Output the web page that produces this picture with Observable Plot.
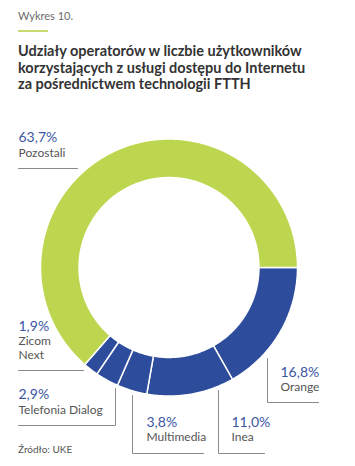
<!DOCTYPE html>
<html>
<head>
<meta charset="utf-8">
<script src="https://cdn.jsdelivr.net/npm/d3@7"></script>
<script src="https://cdn.jsdelivr.net/npm/@observablehq/plot@0.6"></script>
<style>
  html, body { margin: 0; padding: 0; background: #fff; }
  body { width: 355px; height: 466px; position: relative; overflow: hidden; font-family: Lato, "Noto Sans", sans-serif; }
  #kicker { position: absolute; left: 18px; top: 9px; font-size: 11px; line-height: 13px; color: #6b6b6b; }
  #rule { position: absolute; left: 18px; top: 30px; width: 30px; height: 1.5px; background: #c6dc6e; }
  #title { position: absolute; left: 18px; top: 43px; font-size: 14.5px; line-height: 16.5px; font-weight: 700; color: #333; }
  #chart { position: absolute; left: 0; top: 100px; }
  #source { position: absolute; left: 18px; top: 443px; font-size: 10px; line-height: 12px; color: #555; }
</style>
</head>
<body>
<div id="kicker">Wykres 10.</div>
<div id="rule"></div>
<div id="title">Udziały operatorów w liczbie użytkowników<br>korzystających z usługi dostępu do Internetu<br>za pośrednictwem technologii FTTH</div>
<div id="chart"></div>
<div id="source">Źródło: UKE</div>
<script>
// ---- data ----
const categories = ["Orange", "Inea", "Multimedia", "Telefonia Dialog", "Zicom Next", "Pozostali"];
const shares = [16.8, 11.0, 3.8, 2.9, 1.9, 63.7];
const valueLabels = ["16,8%", "11,0%", "3,8%", "2,9%", "1,9%", "63,7%"];
const nameLines = [["Orange"], ["Inea"], ["Multimedia"], ["Telefonia Dialog"], ["Zicom", "Next"], ["Pozostali"]];
const colors = ["#2d4c9c", "#2d4c9c", "#2d4c9c", "#2d4c9c", "#2d4c9c", "#bdd64f"];

// ---- layout (svg pixels) ----
const W = 355, H = 360;
const CX = 168.5, CY = 167, R = 128.5, INNER = 0.70;
const labelLayout = [
  {x: 280, value: 276, names: [290], leader: [[267, 258], [267, 302], [318, 302]]},
  {x: 231, value: 326, names: [340], leader: [[218, 290], [218, 353], [264, 353]]},
  {x: 146, value: 326, names: [340], leader: [[132, 295], [132, 353], [203, 353]]},
  {x: 18, value: 298, names: [313], leader: [[115, 288], [115, 325], [18, 325]]},
  {x: 18, value: 230, names: [244, 258], leader: [[18, 270], [83, 270]]},
  {x: 18, value: 41, names: [56], leader: [[18, 68], [77, 68]]}
];
const ux = px => (px - CX) / R;
const uy = py => (py - CY) / R;

// ---- slices (d3.pie, starting at 3 o'clock, clockwise) ----
const pie = d3.pie().sort(null).startAngle(Math.PI / 2).endAngle(Math.PI / 2 + 2 * Math.PI);
const arcs = pie(shares);
const slicePts = [];
arcs.forEach((a, i) => {
  const n = Math.max(4, Math.ceil((a.endAngle - a.startAngle) / (Math.PI / 360)));
  const ring = [];
  for (let k = 0; k <= n; k++) {
    const t = a.startAngle + (a.endAngle - a.startAngle) * k / n;
    ring.push([Math.sin(t), -Math.cos(t)]);
  }
  for (let k = n; k >= 0; k--) {
    const t = a.startAngle + (a.endAngle - a.startAngle) * k / n;
    ring.push([INNER * Math.sin(t), -INNER * Math.cos(t)]);
  }
  ring.push(ring[0]);
  ring.forEach(([x, y], j) => slicePts.push({cat: categories[i], x, y, j}));
});

const valueText = categories.map((c, i) => ({cat: c, text: valueLabels[i], x: ux(labelLayout[i].x), y: uy(labelLayout[i].value)}));
const nameText = [];
categories.forEach((c, i) => nameLines[i].forEach((t, k) => nameText.push({cat: c, text: t, x: ux(labelLayout[i].x), y: uy(labelLayout[i].names[k])})));
const leaders = [];
categories.forEach((c, i) => labelLayout[i].leader.forEach(([px, py], j) => leaders.push({cat: c, x: ux(px), y: uy(py), j})));

const chart = Plot.plot({
  width: W,
  height: H,
  margin: 0,
  style: {fontFamily: "Lato, 'Noto Sans', sans-serif", background: "transparent"},
  x: {domain: [ux(0), ux(W)], range: [0, W], axis: null},
  y: {domain: [uy(0), uy(H)], range: [0, H], axis: null},
  color: {type: "ordinal", domain: categories, range: colors},
  marks: [
    Plot.line(slicePts, {x: "x", y: "y", z: "cat", fill: "cat", stroke: "white", strokeWidth: 1.5, strokeLinejoin: "miter", curve: "linear"}),
    Plot.line(leaders, {x: "x", y: "y", z: "cat", stroke: "#8a8a8a", strokeWidth: 1, curve: "linear"}),
    Plot.text(valueText, {x: "x", y: "y", text: "text", textAnchor: "start", lineAnchor: "bottom", fontSize: 14, fill: "#3b56a3"}),
    Plot.text(nameText, {x: "x", y: "y", text: "text", textAnchor: "start", lineAnchor: "bottom", fontSize: 12, fill: "#555555"})
  ]
});
document.getElementById("chart").appendChild(chart);
</script>
</body>
</html>
